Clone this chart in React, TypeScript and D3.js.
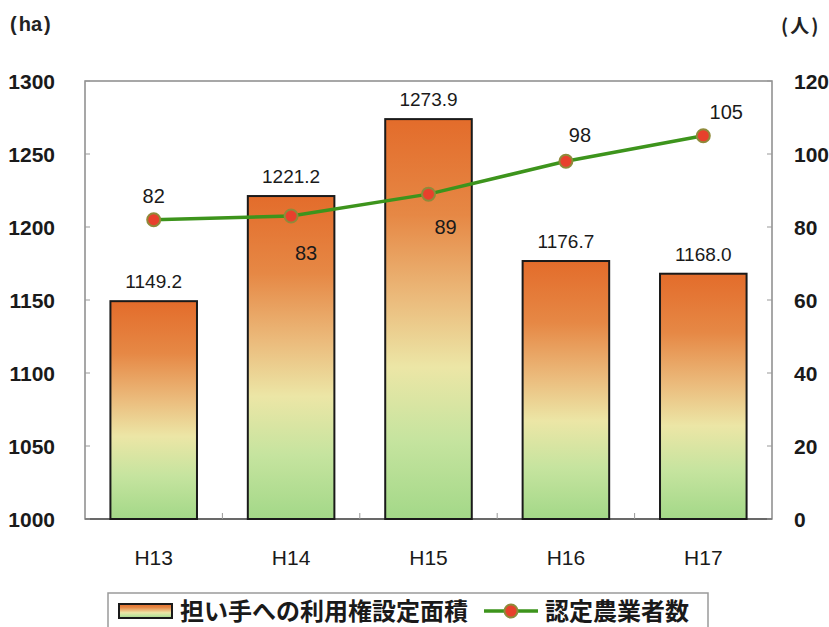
import React from "react";
import * as d3 from "d3";

const categories = ["H13", "H14", "H15", "H16", "H17"];
const areaValues = [1149.2, 1221.2, 1273.9, 1176.7, 1168.0];
const areaLabels = ["1149.2", "1221.2", "1273.9", "1176.7", "1168.0"];
const farmerValues = [82, 83, 89, 98, 105];
const leftTicks = [1000, 1050, 1100, 1150, 1200, 1250, 1300];
const rightTicks = [0, 20, 40, 60, 80, 100, 120];
const seriesNames = ["担い手への利用権設定面積", "認定農業者数"];
const unitLeft = "ha";
const unitRight = "人";

// label offsets (layout) for the line labels
const lineLabelOffsets: [number, number][] = [
  [0, -24],
  [15, 37],
  [17, 33],
  [14, -27],
  [23, -24],
];

const W = 829;
const H = 627;
const M = { left: 85, right: 772, top: 81, bottom: 519 };

const NUM_FONT = "'Liberation Sans', Arial, 'Noto Sans CJK JP', sans-serif";
const CJK_FONT = "'Noto Sans CJK JP', 'Liberation Sans', sans-serif";

export default function App() {
  const x = d3
    .scaleBand<string>()
    .domain(categories)
    .range([M.left, M.right])
    .paddingInner(0.37)
    .paddingOuter(0.185);
  const yL = d3.scaleLinear().domain([1000, 1300]).range([M.bottom, M.top]);
  const yR = d3.scaleLinear().domain([0, 120]).range([M.bottom, M.top]);

  const cx = (c: string) => (x(c) as number) + x.bandwidth() / 2;

  const line = d3
    .line<number>()
    .x((_, i) => cx(categories[i]))
    .y((d) => yR(d));

  const step = x.step();
  const boundaries = categories.slice(1).map((c) => (x(c) as number) - (step - x.bandwidth()) / 2);

  const gradStops = [
    { o: "0%", c: "#e36c2b" },
    { o: "24%", c: "#e68845" },
    { o: "45%", c: "#ebbb7c" },
    { o: "62%", c: "#ece6a6" },
    { o: "80%", c: "#c6e49f" },
    { o: "100%", c: "#a3d888" },
  ];

  return (
    <svg
      width={W}
      height={H}
      style={{ position: "absolute", left: 0, top: 0, background: "#fff" }}
    >
      <defs>
        <linearGradient id="barGrad" x1="0" y1="0" x2="0" y2="1">
          {gradStops.map((s) => (
            <stop key={s.o} offset={s.o} stopColor={s.c} />
          ))}
        </linearGradient>
      </defs>

      {/* units */}
      <text x={10} y={31} fontFamily={NUM_FONT} fontWeight="bold" fontSize={20} fill="#222">
        <tspan>(</tspan>
        <tspan dx={2}>{unitLeft}</tspan>
        <tspan dx={2}>)</tspan>
      </text>
      <text x={781} y={33} fontFamily={CJK_FONT} fontWeight="bold" fontSize={19} fill="#222">
        <tspan>(</tspan>
        <tspan dx={2}>{unitRight}</tspan>
        <tspan dx={2}>)</tspan>
      </text>

      {/* plot frame */}
      <rect
        x={M.left}
        y={M.top}
        width={M.right - M.left}
        height={M.bottom - M.top}
        fill="none"
        stroke="#8a8a8a"
        strokeWidth={1.5}
      />
      <line x1={M.left} x2={M.right} y1={M.bottom} y2={M.bottom} stroke="#555" strokeWidth={1.5} />

      {/* left ticks */}
      {leftTicks.map((t) => (
        <g key={"l" + t}>
          <line x1={M.left} x2={M.left + 5} y1={yL(t)} y2={yL(t)} stroke="#999" strokeWidth={1} />
          <text
            x={55}
            y={yL(t)}
            dy="0.36em"
            textAnchor="end"
            fontFamily={NUM_FONT}
            fontWeight="bold"
            fontSize={21}
            fill="#1a1a1a"
          >
            {t}
          </text>
        </g>
      ))}

      {/* right ticks */}
      {rightTicks.map((t) => (
        <g key={"r" + t}>
          <line x1={M.right - 5} x2={M.right} y1={yR(t)} y2={yR(t)} stroke="#999" strokeWidth={1} />
          <text
            x={794}
            y={yR(t)}
            dy="0.36em"
            textAnchor="start"
            fontFamily={NUM_FONT}
            fontWeight="bold"
            fontSize={21}
            fill="#1a1a1a"
          >
            {t}
          </text>
        </g>
      ))}

      {/* bottom category boundary ticks */}
      {boundaries.map((b, i) => (
        <line key={"b" + i} x1={b} x2={b} y1={M.bottom} y2={M.bottom - 6} stroke="#999" strokeWidth={1} />
      ))}

      {/* bars */}
      {categories.map((c, i) => (
        <rect
          key={"bar" + c}
          x={x(c)}
          y={yL(areaValues[i])}
          width={x.bandwidth()}
          height={yL(1000) - yL(areaValues[i])}
          fill="url(#barGrad)"
          stroke="#1a1a1a"
          strokeWidth={2}
        />
      ))}

      {/* bar value labels */}
      {categories.map((c, i) => (
        <text
          key={"bl" + c}
          x={cx(c)}
          y={yL(areaValues[i]) - 20}
          dy="0.36em"
          textAnchor="middle"
          fontFamily={NUM_FONT}
          fontSize={19}
          fill="#1a1a1a"
        >
          {areaLabels[i]}
        </text>
      ))}

      {/* category labels */}
      {categories.map((c) => (
        <text
          key={"cl" + c}
          x={cx(c)}
          y={557}
          dy="0.36em"
          textAnchor="middle"
          fontFamily={NUM_FONT}
          fontSize={21}
          fill="#1a1a1a"
        >
          {c}
        </text>
      ))}

      {/* line */}
      <path d={line(farmerValues) || ""} fill="none" stroke="#3d941c" strokeWidth={3.5} />
      {farmerValues.map((v, i) => (
        <circle
          key={"pt" + i}
          cx={cx(categories[i])}
          cy={yR(v)}
          r={6.5}
          fill="#e8402c"
          stroke="#8f8a3a"
          strokeWidth={2}
        />
      ))}
      {farmerValues.map((v, i) => (
        <text
          key={"pl" + i}
          x={cx(categories[i]) + lineLabelOffsets[i][0]}
          y={yR(v) + lineLabelOffsets[i][1]}
          dy="0.36em"
          textAnchor="middle"
          fontFamily={NUM_FONT}
          fontSize={20}
          fill="#1a1a1a"
        >
          {v}
        </text>
      ))}

      {/* legend */}
      <rect x={108} y={593} width={600} height={50} fill="#fff" stroke="#9a9a9a" strokeWidth={1.5} />
      <rect x={119} y={604} width={53} height={14} fill="url(#barGrad)" stroke="#1a1a1a" strokeWidth={2} />
      <text x={180} y={611} dy="0.36em" fontFamily={CJK_FONT} fontWeight="bold" fontSize={24} fill="#1a1a1a">
        {seriesNames[0]}
      </text>
      <line x1={484} x2={538} y1={611} y2={611} stroke="#3d941c" strokeWidth={3.5} />
      <circle cx={511} cy={611} r={6.5} fill="#e8402c" stroke="#8f8a3a" strokeWidth={2} />
      <text x={545} y={611} dy="0.36em" fontFamily={CJK_FONT} fontWeight="bold" fontSize={24} fill="#1a1a1a">
        {seriesNames[1]}
      </text>
    </svg>
  );
}
